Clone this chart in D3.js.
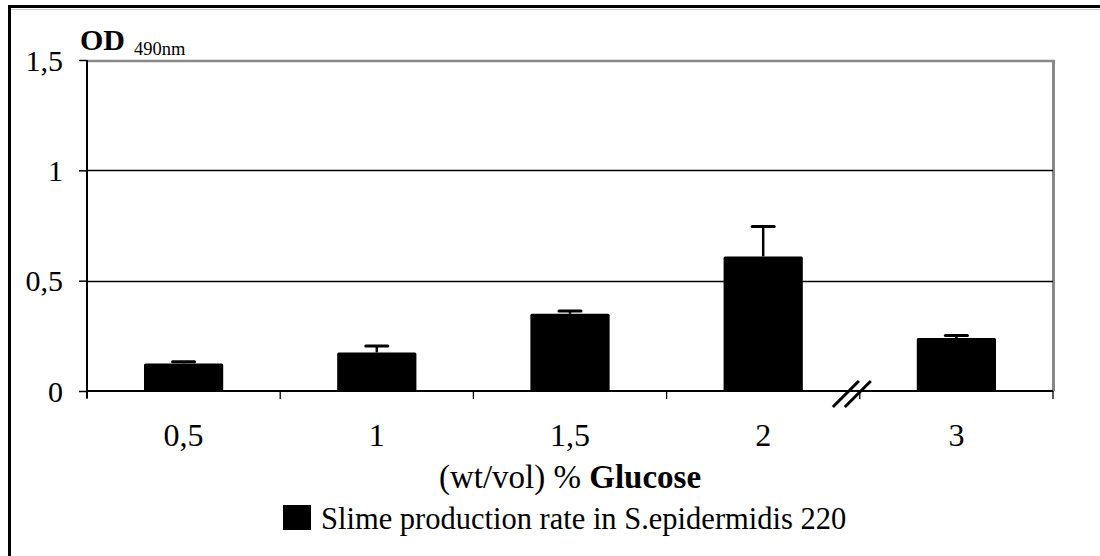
<!DOCTYPE html>
<html>
<head>
<meta charset="utf-8">
<script src="https://cdn.jsdelivr.net/npm/d3@7"></script>
<style>
  html, body { margin: 0; padding: 0; background: #fff; }
  svg { display: block; }
</style>
</head>
<body>
<svg id="chart" width="1100" height="556"></svg>
<script>
// Glucose concentration (% wt/vol) and slime production (OD 490nm)
const categories = ["0,5", "1", "1,5", "2", "3"];
const means = [0.125, 0.175, 0.35, 0.61, 0.24];
const errors = [0.008, 0.029, 0.013, 0.135, 0.012];
const yTicks = [0, 0.5, 1, 1.5];
const yTickLabels = ["0", "0,5", "1", "1,5"];
const seriesName = "Slime production rate in S.epidermidis 220";

const FONT = "'Liberation Serif', 'Times New Roman', serif";
const svg = d3.select("#chart");
const W = 1100, H = 556;
const plot = { left: 87, right: 1053, top: 60, bottom: 391 };

// outer frame (top and left edges visible)
svg.append("rect").attr("x", 0).attr("y", 0).attr("width", W).attr("height", H).attr("fill", "#fff");
svg.append("line").attr("x1", 9).attr("x2", W).attr("y1", 9.5).attr("y2", 9.5)
  .attr("stroke", "#ccc").attr("stroke-width", 1);
svg.append("line").attr("x1", 8).attr("x2", W).attr("y1", 6.5).attr("y2", 6.5)
  .attr("stroke", "#000").attr("stroke-width", 3);
svg.append("line").attr("x1", 9.5).attr("x2", 9.5).attr("y1", 5).attr("y2", H)
  .attr("stroke", "#000").attr("stroke-width", 3);

const x = d3.scaleBand()
  .domain(categories)
  .range([plot.left, plot.right])
  .paddingInner(0.59)
  .paddingOuter(0.295);

const y = d3.scaleLinear().domain([0, 1.5]).range([plot.bottom, plot.top]);

// plot area border (top and right in grey)
svg.append("line").attr("x1", plot.left).attr("x2", plot.right + 1.5)
  .attr("y1", y(1.5) + 1).attr("y2", y(1.5) + 1)
  .attr("stroke", "#888").attr("stroke-width", 2.5);
svg.append("line").attr("x1", plot.right + 0.5).attr("x2", plot.right + 0.5)
  .attr("y1", y(1.5)).attr("y2", plot.bottom)
  .attr("stroke", "#888").attr("stroke-width", 3);

// horizontal gridlines
svg.append("g").selectAll("line")
  .data(yTicks.filter(v => v > 0 && v < 1.5))
  .join("line")
  .attr("x1", plot.left).attr("x2", plot.right)
  .attr("y1", d => Math.round(y(d)) + 0.5).attr("y2", d => Math.round(y(d)) + 0.5)
  .attr("stroke", "#000").attr("stroke-width", 1.3);

// y axis
const yAxis = d3.axisLeft(y)
  .tickValues(yTicks)
  .tickFormat((d, i) => yTickLabels[i])
  .tickSize(8)
  .tickPadding(16);
const gy = svg.append("g").attr("transform", `translate(${plot.left},0)`).call(yAxis);
gy.attr("font-family", FONT);
gy.select(".domain").attr("stroke", "#000").attr("stroke-width", 2).attr("d", `M0,${plot.top}V${plot.bottom + 7}`);
gy.selectAll(".tick line").attr("stroke", "#000").attr("stroke-width", 1.5);
gy.selectAll(".tick text")
  .attr("font-family", FONT)
  .attr("font-size", 30).attr("fill", "#000").attr("dy", "0.34em");

// bars
svg.append("g").selectAll("rect")
  .data(categories)
  .join("rect")
  .attr("x", d => x(d))
  .attr("width", x.bandwidth())
  .attr("y", (d, i) => y(means[i]))
  .attr("height", (d, i) => y(0) - y(means[i]))
  .attr("fill", "#000")
  .attr("rx", 1.5);

// error bars (upper)
const eb = svg.append("g").selectAll("g")
  .data(categories)
  .join("g");
eb.append("line")
  .attr("x1", d => x(d) + x.bandwidth() / 2).attr("x2", d => x(d) + x.bandwidth() / 2)
  .attr("y1", (d, i) => y(means[i])).attr("y2", (d, i) => y(means[i] + errors[i]))
  .attr("stroke", "#000").attr("stroke-width", 2.5);
eb.append("line")
  .attr("x1", d => x(d) + x.bandwidth() / 2 - 11).attr("x2", d => x(d) + x.bandwidth() / 2 + 11)
  .attr("y1", (d, i) => y(means[i] + errors[i])).attr("y2", (d, i) => y(means[i] + errors[i]))
  .attr("stroke", "#000").attr("stroke-width", 3).attr("stroke-linecap", "round");

// x baseline and category-boundary ticks
const step = x.step();
const bounds = d3.range(categories.length + 1).map(i => plot.left + i * step);
svg.append("line").attr("x1", plot.left).attr("x2", plot.right)
  .attr("y1", y(0)).attr("y2", y(0)).attr("stroke", "#000").attr("stroke-width", 2);
svg.append("g").selectAll("line")
  .data(bounds)
  .join("line")
  .attr("x1", d => d).attr("x2", d => d)
  .attr("y1", y(0)).attr("y2", y(0) + 8)
  .attr("stroke", "#000").attr("stroke-width", 1.3);

// x tick labels
svg.append("g").selectAll("text")
  .data(categories)
  .join("text")
  .attr("x", d => x(d) + x.bandwidth() / 2)
  .attr("y", 446)
  .attr("text-anchor", "middle")
  .attr("font-family", FONT)
  .attr("font-size", 32)
  .text(d => d);

// axis break marks between "2" and "3"
const brk = bounds[4] - 8;
const breakG = svg.append("g").attr("transform", `translate(${brk},${y(0) + 3})`);
[-6, 6].forEach(dx => {
  breakG.append("line")
    .attr("x1", dx - 13).attr("y1", 13)
    .attr("x2", dx + 13).attr("y2", -13)
    .attr("stroke", "#000").attr("stroke-width", 3);
});

// y axis title
const yt = svg.append("text").attr("x", 80).attr("y", 50).attr("font-family", FONT);
yt.append("tspan").attr("font-size", 30).attr("font-weight", "bold").text("OD");
yt.append("tspan").attr("font-size", 18.5).attr("dx", 9).attr("dy", 5).text("490nm");

// x axis title
const xt = svg.append("text")
  .attr("x", (plot.left + plot.right) / 2)
  .attr("y", 488)
  .attr("text-anchor", "middle")
  .attr("font-family", FONT)
  .attr("font-size", 33);
xt.append("tspan").text("(wt/vol) % ");
xt.append("tspan").attr("font-weight", "bold").text("Glucose");

// legend
svg.append("rect").attr("x", 283).attr("y", 505).attr("width", 28).attr("height", 25).attr("fill", "#000");
svg.append("text").attr("x", 321).attr("y", 529).attr("font-family", FONT)
  .attr("font-size", 30.5).text(seriesName);
</script>
</body>
</html>
